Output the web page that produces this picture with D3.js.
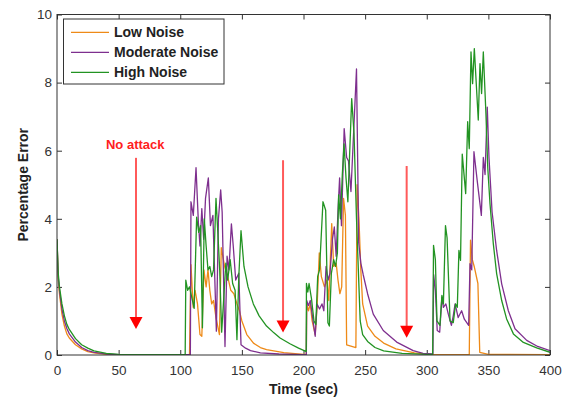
<!DOCTYPE html>
<html>
<head>
<meta charset="utf-8">
<script src="https://cdn.jsdelivr.net/npm/d3@7"></script>
<style>
  html, body { margin: 0; padding: 0; background: #fff; }
  svg { display: block; }
  text { font-family: "Liberation Sans", Arial, sans-serif; }
</style>
</head>
<body>
<svg id="chart" width="569" height="400"></svg>
<script>
// ---------------- data ----------------
const xTicks = [0, 50, 100, 150, 200, 250, 300, 350, 400];
const yTicks = [0, 2, 4, 6, 8, 10];
const seriesNames = ["Low Noise", "Moderate Noise", "High Noise"];

const lowNoise = [
  [0,3.4],[1,2.2],[2,1.8],[4,1.2],[6,0.85],[8,0.62],[10,0.5],[15,0.3],[20,0.18],[25,0.1],[30,0.06],[40,0.02],[50,0.01],[107.5,0.01],
  [108.7,2.65],[110.5,1.4],[112,1.9],[114,1.5],[116,0.6],[117.5,0.55],[119.2,2.5],[121,2.0],[122.5,2.5],[124,1.9],[125.5,1.5],[127,1.6],[129,1.1],[131.8,0.6],[133.3,3.15],[136,2.6],[138.5,2.3],[141,1.9],[143.5,1.8],[146,1.5],[148,1.3],[150,1.0],[154,0.6],[159.4,0.35],[165,0.22],[170,0.16],[184,0.07],[200,0.02],[202.3,0.02],
  [202.6,1.5],[204,1.3],[205.5,1.5],[207,1.0],[209.5,0.6],[211,1.4],[212.8,3.0],[214.5,2.3],[217,2.0],[219,2.2],[220.5,1.6],[222.9,3.86],[224.5,2.6],[226.5,2.7],[228,2.2],[229.5,1.8],[231,2.0],[232.5,4.6],[234,4.1],[235,0.3],[242.5,0.22],[243.5,5.0],[245,4.0],[246.5,2.5],[248,1.5],[252,0.85],[258,0.55],[265,0.35],[275,0.18],[290,0.06],[305,0.01],[334.5,0.01],
  [335.5,3.37],[337,2.8],[338.5,2.6],[341.5,2.1],[343,0.08],[350,0.02],[400,0.01]
];

const moderateNoise = [
  [0,3.4],[1,2.3],[2,1.9],[4,1.35],[6,1.0],[8,0.78],[10,0.62],[15,0.38],[20,0.22],[25,0.13],[30,0.08],[40,0.03],[50,0.01],[108.2,0.01],
  [108.7,4.5],[110.6,4.1],[112.8,5.5],[114.7,3.9],[116,3.2],[117.5,4.3],[119,3.4],[120.5,4.6],[122.8,5.2],[124.5,3.8],[126.5,4.1],[129.3,0.7],[131,4.0],[132.8,4.85],[134,4.2],[136.3,0.25],[138,2.9],[139.5,2.5],[141.5,3.85],[143,3.2],[145,2.2],[147.5,2.4],[149.3,0.3],[153,0.2],[157,0.13],[165,0.06],[180,0.03],[200,0.01],[202.3,0.01],
  [202.6,1.6],[204,1.45],[205.5,1.6],[207,1.2],[209.5,0.55],[211,1.5],[213,1.35],[215,1.5],[216.5,1.3],[218.3,2.6],[220,2.2],[221.5,2.4],[223.5,3.4],[225,3.76],[226.5,2.9],[228,4.25],[229.3,5.2],[230.8,3.8],[233,6.65],[235,5.8],[236.5,5.7],[238.5,4.8],[243,8.4],[244.8,3.3],[246.5,2.7],[248.5,2.35],[252,1.8],[256.6,1.2],[264.7,0.72],[275.6,0.38],[289,0.13],[297,0.05],[305,0.03],
  [305.6,2.36],[307,1.9],[308.5,0.72],[310.5,0.67],[312.3,1.7],[313.5,1.4],[315.5,1.5],[317.5,1.2],[320,0.87],[321.5,1.15],[323,1.5],[325.5,1.1],[328.3,1.3],[330.5,1.05],[334,0.87],[335.1,2.68],[336.5,2.5],[338.3,5.97],[341,5.1],[344.3,4.1],[345.9,5.8],[347.3,5.3],[349.1,7.28],[350.5,5.8],[353,4.2],[356.7,3.07],[360.8,2.09],[366.2,1.3],[371.6,0.77],[381.1,0.43],[390,0.25],[400,0.13]
];

const highNoise = [
  [0,3.4],[1,2.4],[2,2.0],[4,1.5],[6,1.15],[8,0.9],[10,0.75],[15,0.48],[20,0.3],[25,0.2],[30,0.12],[40,0.05],[50,0.02],[60,0.01],[104,0.01],
  [104.5,2.2],[106,1.9],[107.5,2.0],[111.3,1.37],[113.3,4.05],[115,3.6],[116.5,3.8],[118,0.8],[119.5,4.0],[121,3.2],[122.5,2.5],[124,2.6],[125.5,2.3],[127,2.5],[129,4.6],[130.5,3.6],[132,2.5],[133.6,0.67],[135,1.5],[137,2.7],[138.5,2.2],[140.5,2.8],[142.5,2.1],[144.5,1.9],[146,0.45],[147.5,2.3],[149.3,3.65],[151.7,2.6],[155,2.0],[159.3,1.5],[164,1.15],[170,0.85],[176,0.65],[181,0.5],[189,0.33],[196,0.2],[201,0.12],[202.2,0.1],
  [202.4,2.1],[203.5,1.85],[204.5,2.1],[206.5,1.65],[208.5,1.0],[210,0.9],[211.5,2.3],[213,2.5],[215.8,4.5],[218,4.25],[219.8,0.95],[221,0.85],[222.6,2.4],[224.5,2.8],[226,2.6],[227.5,3.0],[228.5,4.7],[230,4.0],[231.5,5.3],[232.9,6.2],[234.5,5.2],[236,4.5],[239.1,7.53],[241,6.5],[243,4.0],[244.5,2.5],[246,1.0],[248,0.6],[252,0.4],[258,0.22],[265,0.12],[280,0.05],[300,0.02],[304.8,0.02],
  [305.5,3.22],[307,2.8],[308.3,1.0],[310.7,0.87],[312.3,1.75],[313.5,1.5],[315.2,3.8],[316.5,3.44],[318.9,1.0],[321.5,0.95],[323.4,1.5],[324.8,1.4],[326.1,3.07],[327.4,2.78],[328.8,5.9],[331.6,4.74],[333.2,6.85],[334.5,6.06],[335.9,8.9],[337.2,7.97],[338.6,9.0],[341.8,6.9],[343.2,8.56],[344.5,7.68],[345.9,8.9],[348,7.1],[349.5,5.5],[351.3,4.45],[354,3.27],[356.7,2.39],[360.8,1.6],[364.8,1.06],[370.3,0.62],[378.4,0.37],[389.2,0.21],[400,0.08]
];

// annotation arrows (time, top value, tip value)
const arrowX = [64.1, 183.4, 283.7];
const arrowTop = [5.79, 5.72, 5.55];
const arrowTip = [0.76, 0.66, 0.51];
const noteText = "No attack";
const noteAt = [63.5, 6.04];

// ---------------- chart ----------------
const W = 569, H = 400;
const L = 57, R = 550, T = 14.5, B = 355;
const colors = ["#EE8A18", "#7E2F8E", "#229322"];
const axisColor = "#333333";

const svg = d3.select("#chart");
const x = d3.scaleLinear().domain([0, 400]).range([L, R]);
const y = d3.scaleLinear().domain([0, 10]).range([B, T]);

// axes (inward ticks, MATLAB style)
const gx = svg.append("g").attr("transform", `translate(0,${B})`)
  .call(d3.axisBottom(x).tickValues(xTicks).tickSizeInner(-5).tickSizeOuter(0).tickPadding(10));
const gxTop = svg.append("g").attr("transform", `translate(0,${T})`)
  .call(d3.axisTop(x).tickValues(xTicks).tickSizeInner(-5).tickSizeOuter(0).tickFormat(""));
const gy = svg.append("g").attr("transform", `translate(${L},0)`)
  .call(d3.axisLeft(y).tickValues(yTicks).tickSizeInner(-5).tickSizeOuter(0).tickPadding(5));
const gyR = svg.append("g").attr("transform", `translate(${R},0)`)
  .call(d3.axisRight(y).tickValues(yTicks).tickSizeInner(-5).tickSizeOuter(0).tickFormat(""));

[gx, gxTop, gy, gyR].forEach(g => {
  g.select(".domain").remove();
  g.selectAll(".tick line").attr("stroke", axisColor).attr("stroke-width", 1);
  g.selectAll(".tick text").attr("fill", "#333").style("font-size", "13.5px")
    .style("font-family", "'Liberation Sans', Arial, sans-serif");
});

// clip
svg.append("clipPath").attr("id", "clip").append("rect")
  .attr("x", L).attr("y", T).attr("width", R - L).attr("height", B - T);

const line = d3.line().x(d => x(d[0])).y(d => y(d[1]));
const allSeries = [lowNoise, moderateNoise, highNoise];
const plot = svg.append("g").attr("clip-path", "url(#clip)");
allSeries.forEach((s, i) => {
  plot.append("path").datum(s).attr("d", line)
    .attr("fill", "none").attr("stroke", colors[i]).attr("stroke-width", 1.3)
    .attr("stroke-linejoin", "round");
});

// box
svg.append("rect").attr("x", L).attr("y", T).attr("width", R - L).attr("height", B - T)
  .attr("fill", "none").attr("stroke", axisColor).attr("stroke-width", 1);

// arrows
const headH = 12, headW = 13;
arrowX.forEach((ax, i) => {
  const px = x(ax), pt = y(arrowTop[i]), pb = y(arrowTip[i]);
  svg.append("line").attr("x1", px).attr("x2", px).attr("y1", pt).attr("y2", pb - headH + 1)
    .attr("stroke", "#FF5A5A").attr("stroke-width", 2);
  svg.append("path")
    .attr("d", `M${px - headW / 2},${pb - headH} L${px + headW / 2},${pb - headH} L${px},${pb} Z`)
    .attr("fill", "#FF0000");
});

svg.append("text").attr("x", x(noteAt[0])).attr("y", y(noteAt[1]))
  .attr("text-anchor", "middle").attr("fill", "#FF2020")
  .style("font-size", "13px").style("font-weight", "bold").text(noteText);

// axis titles
svg.append("text").attr("x", (L + R) / 2).attr("y", 394).attr("text-anchor", "middle")
  .attr("fill", "#222").style("font-size", "14px").style("font-weight", "bold").text("Time (sec)");
svg.append("text").attr("transform", `translate(28,${(T + B) / 2}) rotate(-90)`)
  .attr("text-anchor", "middle").attr("fill", "#222")
  .style("font-size", "14px").style("font-weight", "bold").text("Percentage Error");

// legend
const lg = svg.append("g");
lg.append("rect").attr("x", 63.5).attr("y", 19).attr("width", 160.5).attr("height", 65)
  .attr("fill", "#fff").attr("stroke", axisColor).attr("stroke-width", 1);
seriesNames.forEach((n, i) => {
  const yy = 32.3 + i * 20;
  lg.append("line").attr("x1", 71).attr("x2", 109).attr("y1", yy).attr("y2", yy)
    .attr("stroke", colors[i]).attr("stroke-width", 1.3);
  lg.append("text").attr("x", 114).attr("y", yy).attr("dy", "0.36em")
    .attr("fill", "#222").style("font-size", "14px").style("font-weight", "bold").text(n);
});
</script>
</body>
</html>
